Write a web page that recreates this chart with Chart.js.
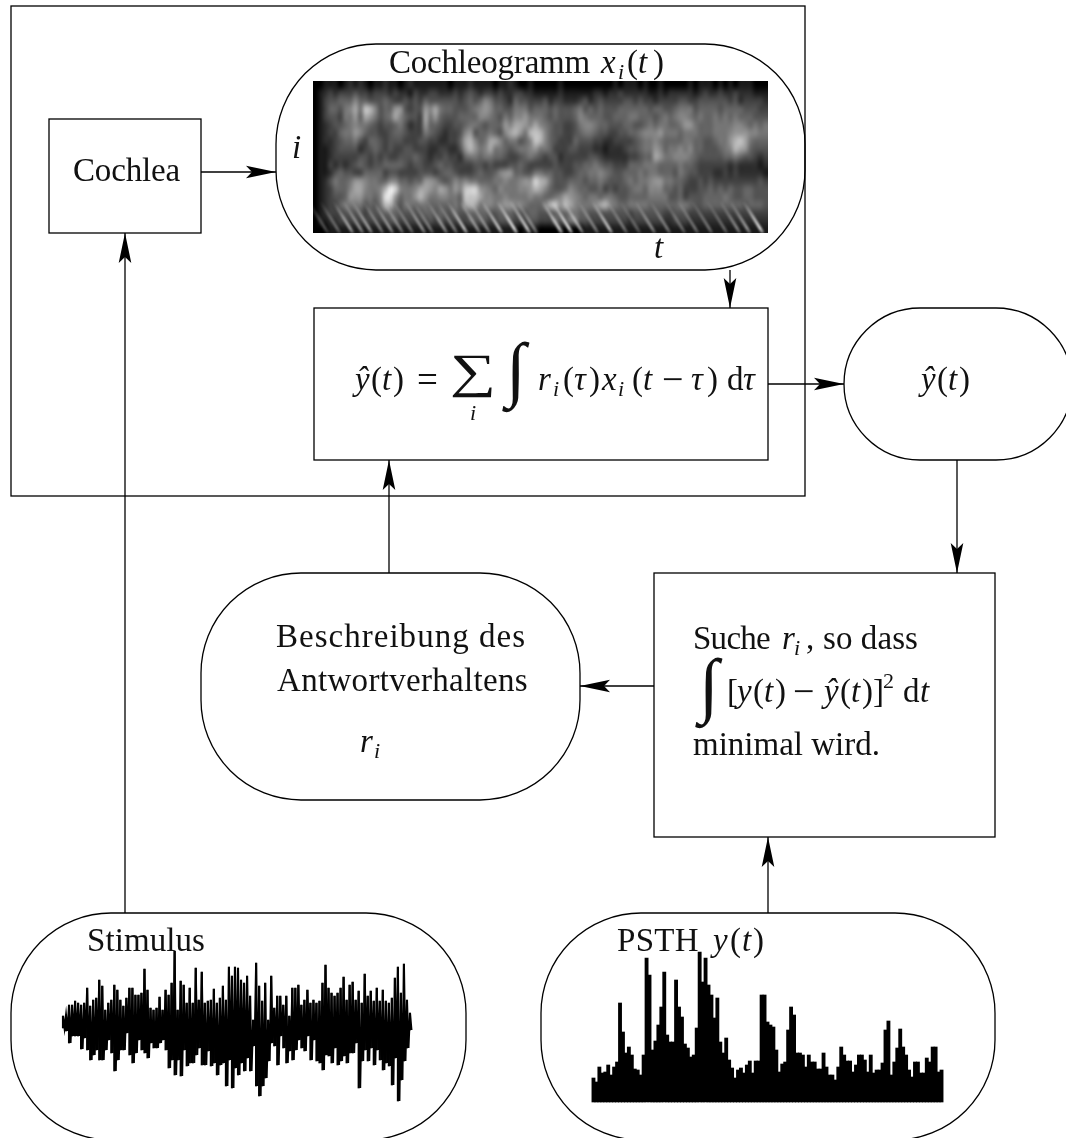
<!DOCTYPE html>
<html>
<head>
<meta charset="utf-8">
<title>Cochleogramm</title>
<script src="https://cdn.jsdelivr.net/npm/chart.js@4"></script>
<style>
    html, body { margin: 0; padding: 0; background: #fff; }
    canvas { display: block; }
</style>
</head>
<body>
<canvas id="diagram" width="1066" height="1138"></canvas>
<script>
// Stimulus waveform, upper and lower excursion per time step
const stimulusUpper = [7,8,18,18,22,20,18,20,35,17,23,25,43,37,13,20,23,38,33,23,17,25,35,35,28,28,30,54,33,15,13,15,26,13,33,28,40,72,13,42,38,20,35,20,55,23,51,20,22,23,34,20,25,37,23,56,47,56,55,43,
    40,47,27,3,60,37,22,40,3,47,15,27,27,18,27,7,35,35,38,18,23,33,20,23,20,22,40,58,35,30,27,30,35,46,23,38,41,23,32,20,49,27,32,22,35,22,33,22,20,25,45,56,30,59,23,10];
const stimulusLower = [5,8,20,13,13,13,26,15,27,37,32,27,37,37,27,17,30,48,37,27,27,10,32,40,30,17,27,30,35,20,25,25,20,17,27,45,37,52,37,53,27,43,40,40,32,25,42,42,28,43,40,52,42,40,63,37,65,45,52,40,
    48,35,48,23,63,73,63,55,38,20,23,42,13,25,40,28,37,27,17,25,28,13,37,17,38,40,47,32,33,40,25,42,38,33,40,30,30,20,65,38,27,38,25,42,27,37,47,40,43,62,35,78,57,38,25,7];

// PSTH bin heights
const psthCounts = [24,20,35,29,30,37,27,35,40,99,70,49,55,47,33,32,27,47,144,127,52,61,77,95,130,67,60,60,122,95,85,58,54,45,47,74,150,120,144,117,107,84,104,60,49,64,42,34,24,32,34,29,37,41,29,41,41,107,107,
    80,77,75,52,30,38,40,72,95,87,49,49,47,35,47,40,40,33,33,49,35,27,27,22,35,55,47,41,41,30,37,47,47,42,30,47,29,32,32,39,72,81,27,40,54,73,55,47,32,25,40,40,29,29,44,40,55,55,30,32];

// Cochleogram intensity, hex digit per cell, top row first
const cochleogramRows = [
    '0011101212 1011211012 1111111011 1211110112 1001000001 0000000000 1011101001 0000010111 0101011100 0010101000 0',
    '0123233343 3233323221 3223322232 3432332322 3322111112 1111112212 2322222112 1222221232 2322322211 1121211111 1',
    '0134455575 5444543343 4354444443 4545764432 5443334233 2223423433 3344343323 3334433444 4443423333 2323232322 2',
    '0135546796 ba74558843 4487965544 4567875544 6664555454 4456454544 4555555455 4456664555 5455554443 3434343433 3',
    '0134436685 9864569754 4396854445 5557765465 7786665454 4457655544 5556655545 6567765655 6565655544 4544444444 5',
    '0123445676 6543445642 3385543344 5665455587 9987976544 3346776554 4455445656 6556886555 6666776565 6556666777 7',
    '0123356687 5443345543 3365432334 7845565479 a86aba7544 3345665443 3445567778 6665666555 6667888776 6577787888 a',
    '0122345564 3554344433 3443322335 9a75699756 6457ba7543 3354443322 3333456676 5555665544 5668ab9655 5566656778 8',
    '0112344442 3454343344 3332233224 8a86796654 5667866533 3443332212 2234456687 5667675544 4567a98544 4565455666 6',
    '0112333334 4343433444 5432334332 5665665543 3456543442 3333344322 2223345598 6677765444 4455654432 3334333334 4',
    '0113232345 4344555543 4433454433 3344343334 4543333343 3344556544 3335556665 5556554333 3332322221 2122222333 3',
    '0112454433 5555344333 3444345543 3345445788 5544665544 3345566765 4455565665 5546544333 2232322222 1212333445 5',
    '0124655688 7665577554 5588754576 7665556676 6788ca9644 4555455654 4456566788 6655433434 3333333334 3334556666 8',
    '0123555799 7667aec766 7998798687 bcc8765766 6778a97544 5765544534 3445665777 5545333445 4545445544 4445565666 7',
    '0123445888 6657dd8566 8a86677665 bbb9776676 6667665567 9876566566 5445555666 6445344455 5565445544 4445567899 a',
    '0123356666 4546aa6466 5665555565 9a96776788 7765557ab8 a9766679a7 6556666555 5556654455 5555554555 4455689ccc c',
    '0123334444 3444555444 4455454454 4555544555 4445544455 5665544444 4443444444 3344433333 3333333333 3344455555 7',
    '0112233333 3333344333 3334343333 3444433444 3334433354 4664433333 3332333333 2233322222 2222222222 2233344444 6',
    '0001111111 1111111111 1111111111 1111111111 1011100001 0000111111 1111111111 1111111111 1111111111 1111111111 2'
];

const cochleogramColumns = 91;

// Low channel streaks: column where each one reaches the bottom, and its brightness
const streakColumns = [2.5,4.9,7.5,9.5,11.3,13.5,15.5,17.5,19.5,21.9,23.5,26.3,28.3,30.3,32.9,34.9,37.3,40.3,42.9,44.3,49.3,51.3,53.5,56.5,59.3,62.3,64.9,67.9,70.9,73.9,76.5,79.3,82.3,84.9,86.9,89.5];
const streakLevels = [.35,.4,.7,.6,.65,.5,.6,.5,.45,.6,.45,.6,.5,.85,.6,.55,.85,1,.9,.5,.9,1,.7,.5,.85,.45,.35,.55,.5,.4,.45,.45,.4,.55,.65,1];

// Diagram layout in page units
const rects = [
    [11, 6, 794, 490],
    [49, 119, 152, 114],
    [314, 308, 454, 152],
    [654, 573, 341, 264]
];
const pills = [
    [276, 44, 529, 226, 100],
    [844, 308, 228, 152, 76],
    [201, 573, 379, 227, 100],
    [11, 913, 455, 227, 100],
    [541, 913, 454, 227, 100]
];
const arrows = [
    [201, 172, 276, 172],
    [730, 270, 730, 308],
    [768, 384, 844, 384],
    [957, 460, 957, 573],
    [654, 686, 580, 686],
    [389, 573, 389, 460],
    [125, 913, 125, 233],
    [768, 913, 768, 837]
];

// text, x, baseline, size, italic, width to fit
const labels = [
    ['Cochleogramm', 389, 73, 33, false, 201],
    ['x', 601, 73, 33, true],
    ['i', 618, 79, 22, true],
    ['(', 627, 73, 33, false],
    ['t', 638, 73, 33, true],
    [')', 653, 73, 33, false],
    ['Cochlea', 73, 181, 33, false, 107],
    ['i', 292, 158, 33, true],
    ['t', 654, 258, 33, true],

    ['ŷ', 355, 390, 33, true],
    ['(', 371, 390, 33, false],
    ['t', 382, 390, 33, true],
    [')', 393, 390, 33, false],
    ['=', 417, 392, 37, false],
    ['i', 470, 420, 22, true],
    ['r', 538, 390, 33, true],
    ['i', 553, 396, 22, true],
    ['(', 563, 390, 33, false],
    ['τ', 574, 390, 33, true],
    [')', 589, 390, 33, false],
    ['x', 602, 390, 33, true],
    ['i', 618, 396, 22, true],
    ['(', 632, 390, 33, false],
    ['t', 643, 390, 33, true],
    ['−', 662, 392, 38, false],
    ['τ', 691, 390, 33, true],
    [')', 707, 390, 33, false],
    ['d', 727, 390, 33, false],
    ['τ', 743, 390, 33, true],

    ['ŷ', 921, 390, 33, true],
    ['(', 937, 390, 33, false],
    ['t', 948, 390, 33, true],
    [')', 959, 390, 33, false],

    ['Beschreibung des', 276, 647, 33, false, 250],
    ['Antwortverhaltens', 277, 691, 33, false, 251],
    ['r', 360, 752, 33, true],
    ['i', 374, 758, 22, true],

    ['Suche', 693, 649, 33, false, 77],
    ['r', 782, 649, 33, true],
    ['i', 794, 655, 22, true],
    [',', 806, 649, 33, false],
    ['so dass', 823, 649, 33, false, 95],
    ['[', 727, 702, 33, false],
    ['y', 737, 702, 33, true],
    ['(', 753, 702, 33, false],
    ['t', 764, 702, 33, true],
    [')', 775, 702, 33, false],
    ['−', 793, 704, 38, false],
    ['ŷ', 824, 702, 33, true],
    ['(', 840, 702, 33, false],
    ['t', 851, 702, 33, true],
    [')', 862, 702, 33, false],
    [']', 873, 702, 33, false],
    ['2', 883, 688, 22, false],
    ['d', 903, 702, 33, false],
    ['t', 920, 702, 33, true],
    ['minimal wird.', 693, 755, 33, false, 187],

    ['Stimulus', 87, 951, 33, false, 118],
    ['PSTH', 617, 951, 33, false, 82],
    ['y', 713, 951, 33, true],
    ['(', 730, 951, 33, false],
    ['t', 742, 951, 33, true],
    [')', 753, 951, 33, false]
];

// sum and integral signs: text, x, baseline, size, horizontal stretch
const bigSigns = [
    ['∑', 450, 387, 48, 1.35],
    ['∫', 506, 393, 72, 1],
    ['∫', 699, 709, 72, 1]
];

const ink = '#000';

// stimulus is drawn as bars per step plus a zigzag that closes the core
const stimulusBars = stimulusUpper.map((up, i) => ({ x: i, y: [-stimulusLower[i], up] }));
const stimulusPoints = [];
stimulusUpper.forEach((up, i) => {
    stimulusPoints.push({ x: i, y: up });
    stimulusPoints.push({ x: i + 0.5, y: -stimulusLower[i] });
});
const psthPoints = psthCounts.map((count, i) => ({ x: i, y: count }));

// hidden axis that places one unit at `step` pixels with `start` at pixel `at`
function placedAxis(axis, start, at, step, length, reverse) {
    if (reverse || axis === 'x') {
        const min = start - at / step;
        return { axis, type: 'linear', display: false, offset: false, reverse: !!reverse, min, max: min + length / step };
    }
    const max = start + at / step;
    return { axis, type: 'linear', display: false, offset: false, max, min: max - length / step };
}

const stimulusStep = 350 / stimulusUpper.length;
const psthStep = 351 / psthCounts.length;

const diagramPlugin = {
    id: 'diagram',
    beforeDraw(chart) {
        const ctx = chart.ctx;
        ctx.save();
        ctx.fillStyle = '#fff';
        ctx.fillRect(0, 0, chart.width, chart.height);
        ctx.restore();
    },
    beforeDatasetsDraw(chart) {
        drawCochleogram(chart);
        drawStreaks(chart);
    },
    afterDatasetsDraw(chart) {
        drawShapes(chart);
        drawLabels(chart);
    }
};

function drawCochleogram(chart) {
    const { xCoch, yCoch } = chart.scales;
    const rows = cochleogramRows.map(r => r.replace(/ /g, ''));
    const cells = document.createElement('canvas');
    cells.width = cochleogramColumns;
    cells.height = rows.length;
    const cellCtx = cells.getContext('2d');
    const img = cellCtx.createImageData(cells.width, cells.height);
    rows.forEach((row, r) => {
        for (let c = 0; c < cochleogramColumns; c++) {
            const level = parseInt(row[c] || '0', 16) / 15;
            const shade = Math.round(255 * Math.pow(level, 0.85));
            const k = (r * cochleogramColumns + c) * 4;
            img.data[k] = img.data[k + 1] = img.data[k + 2] = shade;
            img.data[k + 3] = 255;
        }
    });
    cellCtx.putImageData(img, 0, 0);

    const left = xCoch.getPixelForValue(-0.5);
    const right = xCoch.getPixelForValue(cochleogramColumns - 0.5);
    const top = yCoch.getPixelForValue(-0.5);
    const bottom = yCoch.getPixelForValue(rows.length - 0.5);
    const ctx = chart.ctx;
    ctx.save();
    ctx.imageSmoothingEnabled = true;
    ctx.imageSmoothingQuality = 'high';
    ctx.drawImage(cells, left, top, right - left, bottom - top);
    ctx.restore();
}

function drawStreaks(chart) {
    const { xCoch, yCoch } = chart.scales;
    const left = xCoch.getPixelForValue(-0.5);
    const right = xCoch.getPixelForValue(cochleogramColumns - 0.5);
    const top = yCoch.getPixelForValue(-0.5);
    const bottom = yCoch.getPixelForValue(cochleogramRows.length - 0.5);
    const ctx = chart.ctx;
    ctx.save();
    ctx.beginPath();
    ctx.rect(left, top, right - left, bottom - top);
    ctx.clip();
    ctx.filter = 'blur(1px)';
    ctx.lineWidth = 3;
    streakColumns.forEach((col, i) => {
        const level = streakLevels[i] * 0.85;
        const x0 = xCoch.getPixelForValue(col - 4);
        const y0 = yCoch.getPixelForValue(14.5);
        const x1 = xCoch.getPixelForValue(col);
        const y1 = yCoch.getPixelForValue(18.5);
        const grad = ctx.createLinearGradient(x0, y0, x1, y1);
        grad.addColorStop(0, 'rgba(255,255,255,0)');
        grad.addColorStop(0.5, `rgba(255,255,255,${level * 0.7})`);
        grad.addColorStop(0.85, `rgba(255,255,255,${level})`);
        grad.addColorStop(1, `rgba(255,255,255,${level * 0.5})`);
        ctx.strokeStyle = grad;
        ctx.beginPath();
        ctx.moveTo(x0, y0);
        ctx.lineTo(x1, y1);
        ctx.stroke();
    });
    ctx.restore();
}

function drawShapes(chart) {
    const { xPage, yPage } = chart.scales;
    const px = v => xPage.getPixelForValue(v);
    const py = v => yPage.getPixelForValue(v);
    const ctx = chart.ctx;
    ctx.save();
    ctx.strokeStyle = ink;
    ctx.fillStyle = ink;
    ctx.lineWidth = 1.3;

    rects.forEach(([x, y, w, h]) => {
        ctx.strokeRect(px(x), py(y), w, h);
    });
    pills.forEach(([x, y, w, h, r]) => {
        ctx.beginPath();
        ctx.roundRect(px(x), py(y), w, h, r);
        ctx.stroke();
    });
    arrows.forEach(([x0, y0, x1, y1]) => {
        const a = Math.atan2(py(y1) - py(y0), px(x1) - px(x0));
        ctx.beginPath();
        ctx.moveTo(px(x0), py(y0));
        ctx.lineTo(px(x1), py(y1));
        ctx.stroke();
        ctx.save();
        ctx.translate(px(x1), py(y1));
        ctx.rotate(a);
        ctx.beginPath();
        ctx.moveTo(0, 0);
        ctx.lineTo(-30, -6.3);
        ctx.lineTo(-24, 0);
        ctx.lineTo(-30, 6.3);
        ctx.closePath();
        ctx.fill();
        ctx.restore();
    });
    ctx.restore();
}

function drawLabels(chart) {
    const { xPage, yPage } = chart.scales;
    const ctx = chart.ctx;
    ctx.save();
    ctx.fillStyle = '#111';
    ctx.textBaseline = 'alphabetic';
    labels.forEach(([text, x, y, size, italic, fitWidth]) => {
        ctx.font = (italic ? 'italic ' : '') + size + 'px "Liberation Serif"';
        ctx.letterSpacing = '0px';
        if (fitWidth) {
            const extra = (fitWidth - ctx.measureText(text).width) / text.length;
            ctx.letterSpacing = extra + 'px';
        }
        ctx.fillText(text, xPage.getPixelForValue(x), yPage.getPixelForValue(y));
    });
    ctx.letterSpacing = '0px';
    bigSigns.forEach(([text, x, y, size, stretch]) => {
        ctx.save();
        ctx.font = size + 'px "Liberation Serif"';
        ctx.translate(xPage.getPixelForValue(x), yPage.getPixelForValue(y));
        ctx.scale(stretch, 1);
        ctx.fillText(text, 0, 0);
        ctx.restore();
    });
    ctx.restore();
}

new Chart(document.getElementById('diagram').getContext('2d'), {
    type: 'bar',
    data: {
        datasets: [{
            type: 'line',
            label: 'Stimulus',
            data: stimulusPoints,
            xAxisID: 'xStim',
            yAxisID: 'yStim',
            borderColor: ink,
            borderWidth: 2,
            pointRadius: 0,
            tension: 0,
            fill: false
        }, {
            label: 'Stimulus excursion',
            data: stimulusBars,
            xAxisID: 'xStim',
            yAxisID: 'yStim',
            backgroundColor: ink,
            borderWidth: 0,
            grouped: false,
            barThickness: 1.5
        }, {
            label: 'PSTH',
            data: psthPoints,
            xAxisID: 'xPsth',
            yAxisID: 'yPsth',
            backgroundColor: ink,
            borderWidth: 0,
            grouped: false,
            barThickness: 3.2
        }]
    },
    options: {
        responsive: false,
        animation: false,
        layout: { padding: 0 },
        plugins: { legend: { display: false }, tooltip: { enabled: false } },
        scales: {
            xPage: placedAxis('x', 0, 0, 1, 1066),
            yPage: placedAxis('y', 0, 0, 1, 1138, true),
            xCoch: placedAxis('x', -0.5, 313, 5, 1066),
            yCoch: placedAxis('y', -0.5, 81, 8, 1138, true),
            xStim: placedAxis('x', 0, 63, stimulusStep, 1066),
            yStim: placedAxis('y', 0, 1023, 1, 1138),
            xPsth: placedAxis('x', -0.5, 592, psthStep, 1066),
            yPsth: placedAxis('y', 0, 1102, 1, 1138)
        }
    },
    plugins: [diagramPlugin]
});
</script>
</body>
</html>
